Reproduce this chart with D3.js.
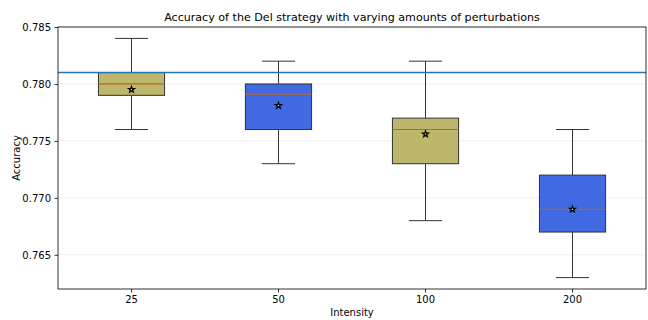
<!DOCTYPE html>
<html lang="en">
  <head>
      <meta charset="utf-8">
      <title>Accuracy of the Del strategy</title>
      <script type="text/javascript" src="https://cdn.jsdelivr.net/npm/d3@7"></script>
      <style>
        body { margin: 0; background: #fff; }
        text { font-family: "DejaVu Sans", sans-serif; }
      </style>
  </head>
  <body>
      <script type="text/javascript">

      // data
      var intensities = ["25", "50", "100", "200"];
      var whiskerLow  = [0.776, 0.773, 0.768, 0.763];
      var q1          = [0.779, 0.776, 0.773, 0.767];
      var medians     = [0.780, 0.7791, 0.776, 0.769];
      var q3          = [0.781, 0.780, 0.777, 0.772];
      var whiskerHigh = [0.784, 0.782, 0.782, 0.776];
      var means       = [0.7795, 0.7781, 0.7756, 0.769];
      var baseline = 0.781;
      var yTicks = [0.765, 0.770, 0.775, 0.780, 0.785];
      var boxColors = ["#bdb76b", "#4169e1", "#bdb76b", "#4169e1"];

      var w = 648, h = 320;
      var margin = {top: 27, right: 2, bottom: 31, left: 58};
      var iw = w - margin.left - margin.right;
      var ih = h - margin.top - margin.bottom;

      var svg = d3.select("body").append("svg").attr("width", w).attr("height", h);
      var g = svg.append("g").attr("transform", "translate(" + margin.left + "," + margin.top + ")");

      var x = d3.scaleBand().domain(intensities).range([0, iw]);
      var y = d3.scaleLinear().domain([0.762, 0.785]).range([ih, 0]);
      var boxW = x.bandwidth() * 0.45;
      var capW = boxW / 2;

      // grid
      g.selectAll("line.grid").data(yTicks).enter().append("line")
        .attr("x1", 0).attr("x2", iw)
        .attr("y1", function(d){ return y(d); }).attr("y2", function(d){ return y(d); })
        .attr("stroke", "#ebebeb").attr("stroke-width", 0.8);

      var rows = intensities.map(function(k, i){
        return {k: k, lo: whiskerLow[i], q1: q1[i], med: medians[i], q3: q3[i], hi: whiskerHigh[i], mean: means[i], c: boxColors[i]};
      });

      var cx = function(d){ return x(d.k) + x.bandwidth() / 2; };

      // whiskers
      g.selectAll("line.wlo").data(rows).enter().append("line")
        .attr("x1", cx).attr("x2", cx)
        .attr("y1", function(d){ return y(d.lo); }).attr("y2", function(d){ return y(d.q1); })
        .attr("stroke", "#333").attr("stroke-width", 1);
      g.selectAll("line.whi").data(rows).enter().append("line")
        .attr("x1", cx).attr("x2", cx)
        .attr("y1", function(d){ return y(d.hi); }).attr("y2", function(d){ return y(d.q3); })
        .attr("stroke", "#333").attr("stroke-width", 1);
      // caps
      ["lo", "hi"].forEach(function(key){
        g.selectAll("line.cap" + key).data(rows).enter().append("line")
          .attr("x1", function(d){ return cx(d) - capW / 2; })
          .attr("x2", function(d){ return cx(d) + capW / 2; })
          .attr("y1", function(d){ return y(d[key]); }).attr("y2", function(d){ return y(d[key]); })
          .attr("stroke", "#333").attr("stroke-width", 1);
      });

      // boxes
      g.selectAll("rect.box").data(rows).enter().append("rect")
        .attr("x", function(d){ return cx(d) - boxW / 2; })
        .attr("y", function(d){ return y(d.q3); })
        .attr("width", boxW)
        .attr("height", function(d){ return y(d.q1) - y(d.q3); })
        .attr("fill", function(d){ return d.c; })
        .attr("stroke", "#333").attr("stroke-width", 1);

      // medians
      g.selectAll("line.med").data(rows).enter().append("line")
        .attr("x1", function(d){ return cx(d) - boxW / 2; })
        .attr("x2", function(d){ return cx(d) + boxW / 2; })
        .attr("y1", function(d){ return y(d.med); }).attr("y2", function(d){ return y(d.med); })
        .attr("stroke", "#b8662a").attr("stroke-width", 1.2);

      // mean markers
      var star = d3.symbol().type(d3.symbolStar).size(11);
      g.selectAll("path.mean").data(rows).enter().append("path")
        .attr("d", star)
        .attr("transform", function(d){ return "translate(" + cx(d) + "," + y(d.mean) + ")"; })
        .attr("fill", "#fff").attr("stroke", "#000").attr("stroke-width", 1.2);

      // reference line
      g.append("line")
        .attr("x1", 0).attr("x2", iw)
        .attr("y1", y(baseline)).attr("y2", y(baseline))
        .attr("stroke", "#1f77b4").attr("stroke-width", 1.5);

      // axes
      var yAxis = g.append("g").call(d3.axisLeft(y).tickValues(yTicks).tickFormat(d3.format(".3f")).tickSizeOuter(0).tickSize(3.5).tickPadding(3.5));
      var xAxis = g.append("g").attr("transform", "translate(0," + ih + ")")
        .call(d3.axisBottom(x).tickSizeOuter(0).tickSize(3.5).tickPadding(3.5));
      [xAxis, yAxis].forEach(function(a){
        a.selectAll("text").attr("font-size", "10px").attr("fill", "#000").attr("font-family", "DejaVu Sans, sans-serif");
        a.selectAll("line").attr("stroke", "#000").attr("stroke-width", 0.8);
        a.select(".domain").remove();
      });

      // frame
      g.append("rect").attr("x", 0).attr("y", 0).attr("width", iw).attr("height", ih)
        .attr("fill", "none").attr("stroke", "#000").attr("stroke-width", 0.8);

      // labels
      svg.append("text").text("Accuracy of the Del strategy with varying amounts of perturbations")
        .attr("x", margin.left + iw / 2).attr("y", 21)
        .attr("text-anchor", "middle").attr("font-size", "11.1px").attr("fill", "#000");
      svg.append("text").text("Intensity")
        .attr("x", margin.left + iw / 2).attr("y", 316)
        .attr("text-anchor", "middle").attr("font-size", "10px").attr("fill", "#000");
      svg.append("text").text("Accuracy")
        .attr("transform", "translate(20," + (margin.top + ih / 2) + ") rotate(-90)")
        .attr("text-anchor", "middle").attr("font-size", "10px").attr("fill", "#000");

      </script>
  </body>
</html>
